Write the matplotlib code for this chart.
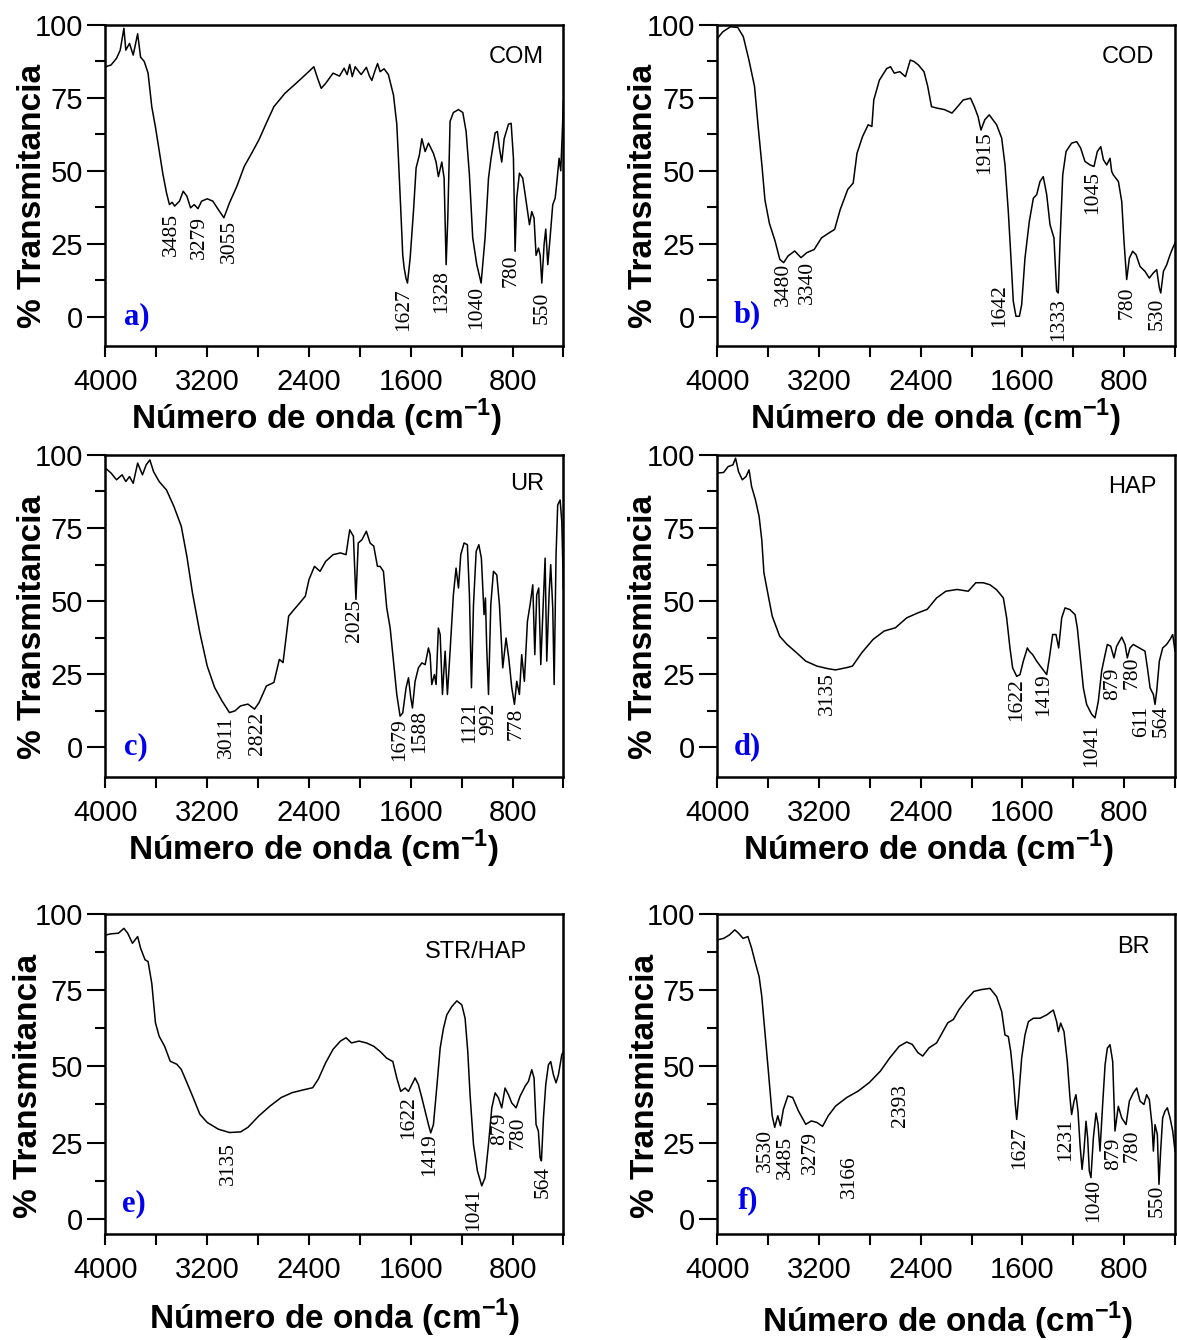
import matplotlib
matplotlib.use("Agg")
import matplotlib.pyplot as plt
from matplotlib.ticker import MultipleLocator, AutoMinorLocator

plt.rcParams['font.family'] = ['Liberation Sans', 'DejaVu Sans']
plt.rcParams['mathtext.fontset'] = 'custom'
plt.rcParams['mathtext.bf'] = 'Liberation Sans:bold'
plt.rcParams['mathtext.rm'] = 'Liberation Sans:bold'

# ---- spectra (wavenumber cm-1, % transmittance) ----
com_wn = [4000, 3956, 3913, 3884, 3855, 3840, 3811, 3782, 3747, 3724, 3695, 3665, 3636, 3607,
          3578, 3549, 3520, 3497, 3476, 3456, 3418, 3389, 3360, 3331, 3302, 3273, 3244, 3200,
          3156, 3113, 3069, 3025, 2967, 2909, 2851, 2793, 2735, 2676, 2589, 2502, 2415, 2362,
          2333, 2304, 2269, 2211, 2160, 2124, 2100, 2080, 2060, 2037, 1990, 1949, 1925, 1906,
          1880, 1861, 1841, 1810, 1776, 1736, 1710,
          1697, 1679, 1663, 1652, 1637, 1626, 1605, 1579, 1558, 1532, 1513, 1487, 1461, 1422,
          1401, 1383, 1356, 1338, 1322, 1309, 1291, 1265, 1225, 1191, 1165, 1139, 1113, 1081,
          1047, 1016, 989, 969, 937, 919, 903, 885, 866, 832, 811, 793, 780, 767, 746, 720,
          693, 667, 649, 631, 615, 596, 583, 570, 552, 539, 523, 505, 484, 465, 452, 434, 421,
          410, 400]
com_t = [85.7, 86.3, 88.6, 91.4, 98.9, 91.4, 93.7, 89.7, 97.0, 89.0, 87.5, 83.5, 72.0, 65.0,
         57.0, 49.0, 42.4, 38.4, 39.2, 37.9, 39.6, 43.0, 41.3, 37.3, 38.4, 37.0, 39.6, 40.4,
         39.6, 36.7, 33.9, 39.0, 44.7, 51.5, 56.0, 60.7, 66.4, 72.0, 76.6, 80.0, 83.5, 85.7,
         81.8, 78.3, 80.0, 83.5, 82.5, 85.2, 83.0, 86.5, 82.3, 85.7, 83.0, 85.5, 82.5, 81.0,
         84.5, 86.8, 84.0, 85.0, 83.0, 76.0, 66.0,
         54.3, 37.0, 21.0, 16.7, 13.0, 11.5, 20.0, 36.0, 51.0, 55.5, 61.0, 56.6, 59.5, 56.0,
         53.0, 48.0, 53.0, 47.5, 17.8, 33.8, 67.0, 70.0, 71.0, 70.0, 63.5, 48.6, 27.0, 17.8,
         11.5, 27.0, 47.5, 54.3, 63.0, 63.5, 57.8, 53.0, 61.0, 66.0, 66.3, 54.3, 22.4, 40.6,
         49.2, 47.5, 39.5, 31.5, 36.0, 33.8, 21.0, 23.5, 21.0, 11.5, 24.7, 30.0, 17.8, 27.0,
         38.4, 40.6, 46.0, 54.3, 50.0, 62.0, 74.0]

cod_wn = [4000, 3956, 3897, 3839, 3795, 3751, 3707, 3678, 3648, 3625, 3590, 3546, 3508, 3478,
          3443, 3391, 3341, 3297, 3238, 3180, 3121, 3077, 3033, 2974, 2931, 2901, 2857, 2813,
          2784, 2769, 2725, 2667, 2637, 2608, 2564, 2520, 2482, 2453, 2418, 2374, 2345, 2315,
          2271, 2213, 2154, 2110, 2066, 2008, 1978, 1949, 1926, 1896, 1861, 1803, 1763, 1737,
          1711, 1690, 1672, 1651, 1624, 1606, 1580, 1546, 1514, 1488, 1462, 1436, 1409, 1383,
          1352, 1331, 1318, 1304, 1283, 1257, 1213, 1173, 1142, 1108, 1068, 1037, 1011, 984,
          963, 937, 911, 898, 885, 845, 819, 801, 780, 759, 733, 706, 675, 636, 602, 570, 544,
          523, 512, 491, 465, 439, 418, 400]
cod_t = [95.4, 97.7, 99.4, 99.2, 96.0, 88.0, 79.0, 65.0, 51.5, 40.0, 32.0, 26.0, 19.6, 18.5,
         20.8, 22.5, 20.2, 21.9, 23.0, 27.0, 28.7, 29.9, 36.7, 43.6, 45.8, 56.0, 61.8, 65.8,
         65.2, 74.3, 81.1, 85.1, 85.7, 83.5, 84.0, 82.3, 88.0, 87.5, 86.3, 84.0, 79.0, 72.0,
         71.5, 71.0, 69.8, 72.0, 74.3, 74.9, 72.0, 68.6, 64.0, 67.5, 69.2, 65.8, 61.2, 52.0,
         36.0, 20.0, 5.3, 0.1, 0.1, 4.0, 20.0, 32.6, 40.6, 41.8, 46.3, 48.0, 41.8, 31.5,
         27.0, 8.7, 8.1, 25.8, 48.6, 56.6, 59.5, 60.0, 57.8, 53.2, 52.0, 51.5, 56.6, 58.3,
         53.8, 52.0, 54.3, 49.8, 48.6, 46.3, 39.5, 25.8, 12.7, 20.0, 22.4, 21.2, 17.2, 15.5,
         13.2, 15.0, 16.1, 9.8, 8.1, 15.5, 17.8, 21.2, 23.5, 25.2]

ur_wn = [4000, 3956, 3913, 3869, 3840, 3811, 3782, 3747, 3709, 3680, 3651, 3622, 3578, 3520,
         3462, 3404, 3360, 3316, 3258, 3200, 3142, 3084, 3025, 2982, 2938, 2880, 2828, 2793,
         2735, 2676, 2633, 2604, 2560, 2516, 2473, 2429, 2400, 2357, 2313, 2269, 2211, 2153,
         2109, 2080, 2051, 2031, 2013, 1984, 1949, 1920, 1891, 1862, 1841, 1815, 1789, 1762,
         1736, 1710, 1684, 1663, 1637, 1618, 1600, 1587, 1566, 1540, 1513, 1487, 1461, 1448,
         1435, 1414, 1401, 1383, 1369, 1351, 1330, 1312, 1291, 1265, 1244, 1225, 1207, 1181,
         1155, 1139, 1123, 1107, 1086, 1065, 1045, 1024, 1013, 1003, 989, 971, 950, 924, 903,
         877, 851, 830, 806, 785, 767, 746, 728, 707, 683, 662, 641, 625, 610, 594, 578, 557,
         544, 531, 513, 500, 484, 473, 458, 445, 426, 413, 400]
ur_t = [95.5, 93.8, 91.5, 93.2, 90.9, 92.6, 90.3, 97.2, 93.2, 96.6, 98.3, 94.3, 90.9, 88.0,
        82.4, 75.6, 65.3, 52.8, 39.2, 27.8, 20.5, 15.9, 11.9, 12.5, 14.2, 14.8, 13.1, 15.3,
        21.0, 22.2, 30.1, 29.0, 44.9, 47.2, 49.4, 51.7, 57.4, 61.9, 60.2, 63.6, 65.9, 66.5,
        65.9, 74.4, 72.2, 50.6, 69.9, 71.0, 73.9, 69.9, 68.8, 61.9, 61.9, 60.2, 47.7, 40.8,
        29.5, 18.1, 10.7, 11.8, 20.4, 23.8, 17.0, 13.5, 22.6, 27.2, 28.9, 28.3, 34.0, 31.7,
        21.5, 24.9, 21.5, 40.8, 38.6, 18.1, 32.9, 18.1, 32.9, 52.2, 61.3, 54.5, 65.9, 69.9,
        69.3, 52.2, 20.4, 48.8, 67.0, 69.3, 64.7, 45.4, 51.1, 34.0, 18.1, 48.8, 60.2, 59.0,
        48.8, 27.2, 37.4, 30.6, 20.4, 14.7, 22.6, 18.1, 31.7, 22.6, 43.1, 48.8, 55.6, 31.7,
        52.2, 54.5, 28.3, 51.1, 64.7, 29.5, 52.2, 62.5, 47.7, 21.5, 65.9, 82.9, 84.6, 77.2,
        54.0]

hap_wn = [4000, 3950, 3915, 3877, 3856, 3833, 3803, 3774, 3750, 3730, 3700, 3671, 3650, 3633,
          3603, 3568, 3509, 3451, 3377, 3304, 3216, 3127, 3069, 2981, 2937, 2863, 2775, 2687,
          2599, 2510, 2422, 2349, 2275, 2202, 2114, 2026, 1967, 1908, 1855, 1803, 1750, 1724,
          1698, 1677, 1645, 1619, 1593, 1561, 1546, 1519, 1488, 1449, 1409, 1388, 1362, 1336,
          1315, 1291, 1265, 1226, 1186, 1168, 1147, 1121, 1095, 1055, 1029, 1003, 977, 950,
          932, 906, 880, 859, 819, 793, 775, 754, 728, 680, 636, 617, 596, 583, 570, 557, 544,
          523, 497, 466, 439, 418, 400]
hap_t = [93.8, 94.0, 96.0, 96.6, 98.9, 94.3, 91.5, 92.6, 94.9, 89.2, 84.7, 79.0, 71.0, 59.7,
         52.8, 44.9, 38.0, 35.2, 32.4, 29.5, 27.8, 26.9, 26.5, 27.3, 27.8, 32.4, 36.9, 39.8,
         40.9, 44.3, 46.0, 47.2, 51.1, 53.4, 54.0, 53.4, 56.3, 56.3, 55.6, 53.9, 51.1, 44.3,
         34.0, 27.2, 24.3, 24.9, 29.5, 34.0, 32.9, 31.7, 29.5, 27.2, 24.9, 30.6, 38.6, 38.6,
         34.0, 44.3, 47.7, 47.1, 45.4, 40.8, 31.7, 20.4, 14.7, 11.3, 10.1, 15.8, 26.1, 31.7,
         35.2, 34.6, 30.6, 34.6, 37.7, 35.2, 30.6, 34.0, 35.2, 34.0, 32.9, 27.2, 20.4, 19.2,
         18.1, 14.7, 19.2, 29.5, 34.0, 35.2, 36.9, 38.6, 32.9]

strhap_wn = [4000, 3956, 3898, 3855, 3825, 3788, 3747, 3724, 3689, 3665, 3636, 3607, 3578,
             3535, 3491, 3439, 3404, 3360, 3316, 3258, 3200, 3113, 3025, 2938, 2880, 2793,
             2706, 2618, 2531, 2444, 2371, 2327, 2269, 2211, 2153, 2109, 2066, 2007, 1949,
             1891, 1841, 1789, 1741, 1710, 1679, 1645, 1618, 1592, 1566, 1540, 1513, 1487,
             1461, 1443, 1422, 1396, 1369, 1343, 1317, 1278, 1238, 1199, 1173, 1152, 1134,
             1107, 1076, 1042, 1016, 989, 963, 937, 911, 885, 859, 832, 806, 772, 741, 701,
             675, 649, 631, 615, 597, 583, 573, 557, 539, 518, 500, 479, 458, 439, 413, 400]
strhap_t = [93.1, 93.5, 93.7, 95.3, 93.7, 90.4, 92.6, 88.8, 85.0, 84.4, 77.3, 64.3, 59.9,
            56.6, 51.7, 50.7, 49.0, 44.7, 40.3, 34.3, 31.6, 29.4, 28.3, 28.5, 30.0, 33.8,
            37.0, 39.8, 41.4, 42.3, 43.0, 45.8, 51.2, 55.6, 58.3, 59.4, 57.7, 58.3, 57.7,
            56.6, 54.9, 52.7, 51.6, 46.2, 41.8, 42.9, 41.8, 44.0, 46.2, 44.0, 39.7, 35.3,
            30.9, 28.2, 30.9, 42.9, 56.0, 62.5, 66.9, 69.6, 71.5, 70.2, 65.8, 54.9, 40.7,
            24.4, 15.7, 10.8, 13.5, 24.4, 36.4, 41.3, 39.7, 36.4, 42.9, 40.7, 38.0, 36.4,
            40.2, 43.5, 45.1, 48.9, 46.2, 30.9, 28.8, 20.0, 19.0, 33.1, 44.0, 50.5, 51.6,
            47.3, 44.6, 47.3, 53.8, 54.9]

br_wn = [4000, 3950, 3906, 3862, 3833, 3797, 3759, 3730, 3700, 3671, 3650, 3627, 3597, 3568,
         3548, 3524, 3503, 3480, 3445, 3407, 3362, 3304, 3260, 3216, 3172, 3127, 3069, 2981,
         2892, 2804, 2716, 2643, 2569, 2510, 2466, 2422, 2384, 2334, 2275, 2231, 2187, 2143,
         2099, 2040, 1982, 1923, 1855, 1803, 1763, 1737, 1711, 1692, 1671, 1656, 1645, 1630,
         1606, 1580, 1553, 1514, 1462, 1409, 1357, 1331, 1317, 1299, 1273, 1247, 1226, 1213,
         1194, 1179, 1163, 1147, 1131, 1116, 1100, 1087, 1074, 1061, 1042, 1021, 1005, 990,
         969, 950, 932, 911, 890, 872, 846, 819, 785, 759, 728, 701, 675, 644, 623, 602, 581,
         570, 557, 539, 526, 513, 497, 479, 460, 439, 418, 400]
br_t = [91.5, 92.0, 93.1, 94.8, 93.7, 92.0, 92.6, 88.8, 83.9, 79.5, 73.0, 62.1, 47.9, 33.8,
        30.0, 33.8, 30.5, 35.9, 40.3, 39.8, 35.4, 31.0, 32.1, 31.6, 30.3, 33.8, 37.0, 39.8,
        41.9, 44.7, 48.5, 52.8, 56.6, 58.0, 57.2, 54.5, 53.4, 56.1, 57.7, 61.0, 64.3, 65.4,
        68.6, 71.9, 74.6, 75.2, 75.6, 72.9, 68.0, 60.3, 59.8, 54.9, 46.2, 37.5, 32.6, 39.7,
        52.7, 60.3, 64.7, 65.8, 65.8, 66.9, 68.5, 64.7, 61.4, 64.2, 61.4, 51.6, 39.7, 34.2,
        38.6, 40.7, 35.3, 24.4, 16.2, 22.2, 32.0, 26.6, 15.7, 13.5, 26.6, 34.7, 30.9, 22.2,
        37.5, 50.5, 56.0, 57.1, 51.6, 28.8, 36.9, 33.1, 30.9, 38.6, 41.3, 42.9, 38.6, 37.5,
        40.7, 39.1, 30.9, 22.2, 30.9, 27.7, 11.3, 22.2, 33.1, 35.3, 36.4, 33.1, 28.8, 22.2]

# ---- peak labels: text, then (x, top of label) ----
com_peaks = ['3485', '3279', '3055', '1627', '1328', '1040', '780', '550']
com_peak_pos = [(3482, 35.6), (3261, 34.4), (3028, 33.3), (1658, 9.8), (1356, 16.1),
                (1081, 10.4), (814, 21.2), (570, 8.7)]
cod_peaks = ['3480', '3340', '1915', '1642', '1333', '1045', '780', '530']
cod_peak_pos = [(3478, 18.5), (3291, 19.0), (1896, 63.5), (1782, 11.0), (1317, 6.4),
                (1047, 49.8), (775, 10.4), (544, 6.4)]
ur_peaks = ['3011', '2822', '2025', '1679', '1588', '1121', '992', '778']
ur_peak_pos = [(3049, 10.8), (2807, 12.2), (2042, 50.8), (1684, 10.1), (1527, 13.0),
               (1139, 15.8), (989, 15.2), (772, 13.5)]
hap_peaks = ['3135', '1622', '1419', '1041', '879', '780', '611', '564']
hap_peak_pos = [(3133, 25.6), (1645, 23.8), (1430, 25.5), (1055, 7.8), (893, 27.2),
                (741, 31.2), (660, 14.1), (512, 14.7)]
strhap_peaks = ['3135', '1622', '1419', '1041', '879', '780', '564']
strhap_peak_pos = [(3034, 25.0), (1616, 40.2), (1453, 28.2), (1102, 10.2), (903, 34.7),
                   (755, 33.7), (562, 17.3)]
br_peaks = ['3530', '3485', '3279', '3166', '2393', '1627', '1231', '1040', '879', '780', '550']
br_peak_pos = [(3622, 29.4), (3466, 27.2), (3268, 28.9), (2960, 20.7), (2557, 44.1),
               (1619, 30.4), (1257, 33.1), (1037, 13.0), (882, 26.6), (740, 29.3), (539, 11.3)]

panels = [
    dict(wn=com_wn, t=com_t, name='COM', letter='a)', peaks=com_peaks, pos=com_peak_pos,
         rect=[0.0896, 0.742, 0.3891, 0.2393], ymin=-10, name_x=0.958, name_y=0.90,
         letter_xy=(3854, 0.0), xlab_x=0.461, xlab_y=-0.16, ylab_x=-0.125, ylab_y=0.467),
    dict(wn=cod_wn, t=cod_t, name='COD', letter='b)', peaks=cod_peaks, pos=cod_peak_pos,
         rect=[0.6094, 0.742, 0.3889, 0.2393], ymin=-10, name_x=0.955, name_y=0.90,
         letter_xy=(3869, 0.7), xlab_x=0.478, xlab_y=-0.16, ylab_x=-0.127, ylab_y=0.467),
    dict(wn=ur_wn, t=ur_t, name='UR', letter='c)', peaks=ur_peaks, pos=ur_peak_pos,
         rect=[0.0896, 0.4204, 0.3891, 0.2401], ymin=-10, name_x=0.958, name_y=0.91,
         letter_xy=(3854, 0.3), xlab_x=0.454, xlab_y=-0.16, ylab_x=-0.125, ylab_y=0.465),
    dict(wn=hap_wn, t=hap_t, name='HAP', letter='d)', peaks=hap_peaks, pos=hap_peak_pos,
         rect=[0.6094, 0.4204, 0.3889, 0.2401], ymin=-10, name_x=0.960, name_y=0.90,
         letter_xy=(3869, 0.3), xlab_x=0.461, xlab_y=-0.16, ylab_x=-0.127, ylab_y=0.465),
    dict(wn=strhap_wn, t=strhap_t, name='STR/HAP', letter='e)', peaks=strhap_peaks,
         pos=strhap_peak_pos, rect=[0.0896, 0.0791, 0.3891, 0.2388], ymin=-5, name_x=0.921,
         name_y=0.88, letter_xy=(3869, 4.9), xlab_x=0.5, xlab_y=-0.197, ylab_x=-0.134,
         ylab_y=0.4625),
    dict(wn=br_wn, t=br_t, name='BR', letter='f)', peaks=br_peaks, pos=br_peak_pos,
         rect=[0.6094, 0.0791, 0.3889, 0.2388], ymin=-5, name_x=0.945, name_y=0.897,
         letter_xy=(3838, 5.9), xlab_x=0.504, xlab_y=-0.205, ylab_x=-0.123, ylab_y=0.4625),
]

fig = plt.figure(figsize=(11.77, 13.4), dpi=100)

for p in panels:
    ax = fig.add_axes(p['rect'])
    ax.plot(p['wn'], p['t'], color='black', lw=1.1)
    ax.set_xlim(4000, 400)
    ax.set_ylim(p['ymin'], 100)

    ax.xaxis.set_major_locator(MultipleLocator(800))
    ax.xaxis.set_minor_locator(AutoMinorLocator(2))
    ax.yaxis.set_major_locator(MultipleLocator(25))
    ax.yaxis.set_minor_locator(AutoMinorLocator(2))
    ax.tick_params(axis='x', which='both', direction='out', length=8, width=1.5,
                   labelsize=21, pad=8, top=False)
    ax.tick_params(axis='y', which='major', direction='out', length=13, width=1.5,
                   labelsize=21, pad=3, right=False)
    ax.tick_params(axis='y', which='minor', direction='out', length=7, width=1.5, right=False)
    for s in ax.spines.values():
        s.set_linewidth(1.8)

    ax.set_xlabel('Número de onda (cm$^{\\mathbf{-1}}$)', fontsize=24, fontweight='bold')
    ax.set_ylabel('% Transmitancia', fontsize=24, fontweight='bold')
    ax.xaxis.set_label_coords(p['xlab_x'], p['xlab_y'])
    ax.yaxis.set_label_coords(p['ylab_x'], p['ylab_y'])

    ax.text(p['name_x'], p['name_y'], p['name'], transform=ax.transAxes,
            ha='right', va='center', fontsize=17)
    ax.text(p['letter_xy'][0], p['letter_xy'][1], p['letter'], color='#0000ee',
            fontsize=22, fontweight='bold', family='Liberation Serif', ha='left', va='center')

    for lab, (x, y) in zip(p['peaks'], p['pos']):
        ax.text(x, y, lab, rotation=90, ha='center', va='top', fontsize=15.5,
                family='Liberation Serif')

fig.savefig('out.png', dpi=100, facecolor='white')
